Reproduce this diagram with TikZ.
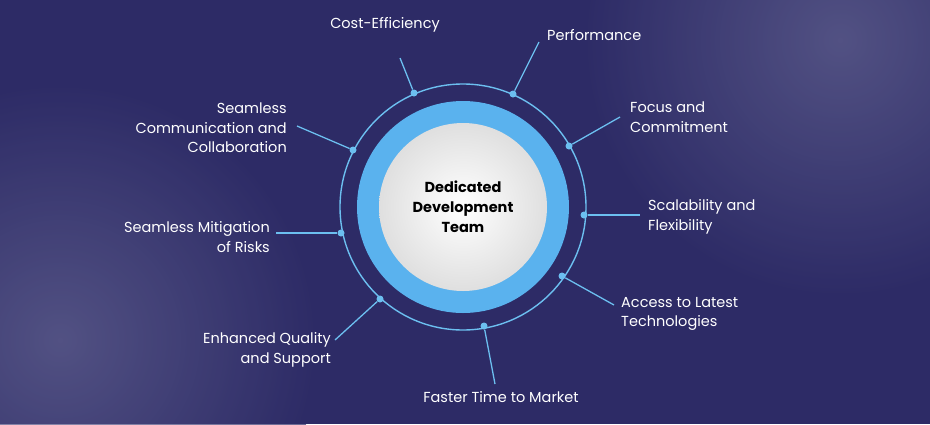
\documentclass[tikz,border=0pt]{standalone}
\usepackage{fontspec}
\setmainfont{Poppins}
\definecolor{bgd}{HTML}{2D2B66}
\definecolor{bgl}{HTML}{626290}
\definecolor{ring}{HTML}{5AB2EE}
\definecolor{lnc}{HTML}{6CBFF0}
\begin{document}
\begin{tikzpicture}[x=1pt,y=-1pt,
  lbl/.style={text=white,font=\fontsize{14.5}{19.5}\selectfont,inner sep=0pt},
  ln/.style={draw=lnc,line width=1.3pt},
  dot/.style={circle,fill=lnc,minimum size=7pt,inner sep=0pt}]
\useasboundingbox (0,0) rectangle (930,424);
\begin{scope}
\clip (0,0) rectangle (930,424);
\fill[bgd] (0,0) rectangle (930,424);
\shade[inner color=bgl,outer color=bgd,opacity=0.7] (840,40) circle[radius=260];
\shade[inner color=bgl,outer color=bgd,opacity=0.7] (60,340) circle[radius=260];
\end{scope}
\coordinate (c) at (463,207);
\draw[lnc,line width=1.4pt] (c) circle[radius=123];
\fill[ring] (c) circle[radius=106];
\shade[inner color=white,outer color=gray!25] (c) circle[radius=84];
\node[font=\fontsize{14.5}{20}\selectfont\bfseries,align=center,text=black] (t) at (c) {Dedicated\\Development\\Team};
\node[dot] (d1) at (414,93) {};
\node[dot] (d2) at (513,94) {};
\node[dot] (d3) at (569,146) {};
\node[dot] (d4) at (584,215) {};
\node[dot] (d5) at (562,276) {};
\node[dot] (d6) at (484,326) {};
\node[dot] (d7) at (380,299) {};
\node[dot] (d8) at (341,233) {};
\node[dot] (d9) at (353,150) {};
\coordinate (e1) at (400,58); \coordinate (e2) at (539,42);
\coordinate (e3) at (620,117); \coordinate (e4) at (640,215);
\coordinate (e5) at (614,305); \coordinate (e6) at (495,384);
\coordinate (e7) at (335,340); \coordinate (e8) at (276,233);
\coordinate (e9) at (297,126);
\foreach \i in {1,...,9}{\draw[ln] (d\i) -- (e\i);}
\node[lbl] (l1) at (385,25) {Cost-Efficiency};
\node[lbl,anchor=west] (l2) at (547,35) {Performance};
\node[lbl,anchor=west,align=left] (l3) at (630,117) {Focus and\\Commitment};
\node[lbl,anchor=west,align=left] (l4) at (648,217) {Scalability and\\Flexibility};
\node[lbl,anchor=west,align=left] (l5) at (621,314) {Access to Latest\\Technologies};
\node[lbl] (l6) at (501,397) {Faster Time to Market};
\node[lbl,anchor=east,align=right] (l7) at (331,350) {Enhanced Quality\\and Support};
\node[lbl,anchor=east,align=right] (l8) at (270,237) {Seamless Mitigation\\of Risks};
\node[lbl,anchor=east,align=right] (l9) at (287,128) {Seamless\\Communication and\\Collaboration};
\end{tikzpicture}
\end{document}
